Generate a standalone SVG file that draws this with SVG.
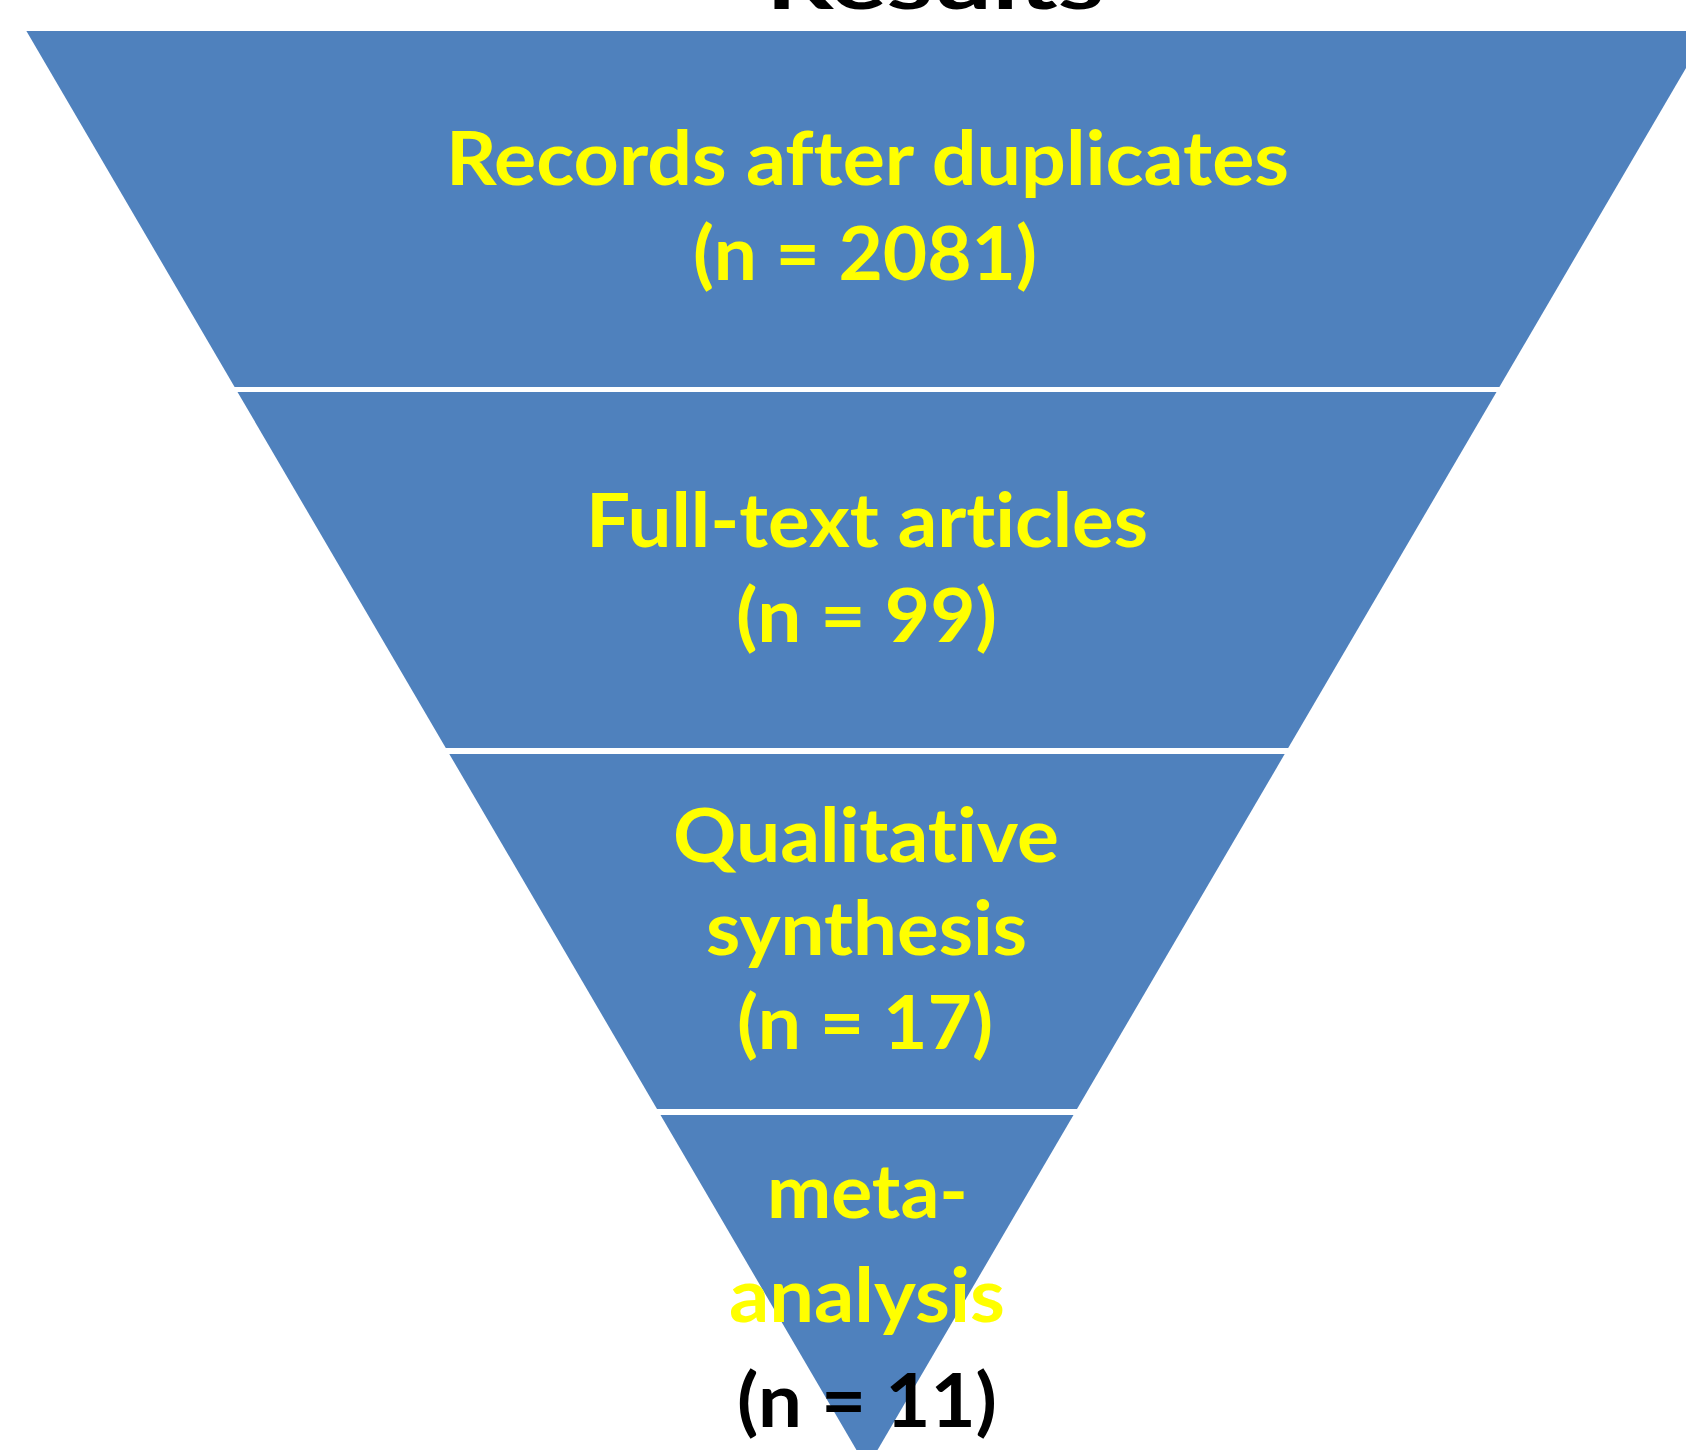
<svg xmlns="http://www.w3.org/2000/svg" width="1686" height="1450" viewBox="0 0 1686 1450">
  <style>
    .seg { fill: #4F81BD; }
    .lbl { font-family: Lato, "Open Sans", "Liberation Sans", sans-serif; font-weight: bold; font-size: 75px; fill: #FFFF00; font-variant-ligatures: none; font-feature-settings: "liga" 0, "clig" 0; }
    .blk { fill: #000000; }
  </style>
  <rect width="1686" height="1450" fill="#FFFFFF"/>
  <g id="title">
    <text class="lbl blk" x="766" y="9" font-size="108" textLength="338" lengthAdjust="spacingAndGlyphs">Results</text>
  </g>
  <g id="records">
    <polygon class="seg" points="26.4,31 1707.6,31 1499.4,387 234.6,387"/>
    <text class="lbl" x="446" y="185" textLength="843" lengthAdjust="spacingAndGlyphs">Records after duplicates</text>
    <text class="lbl" x="693" y="280" textLength="344" lengthAdjust="spacingAndGlyphs">(n = 2081)</text>
  </g>
  <g id="fulltext">
    <polygon class="seg" points="237.5,392 1496.5,392 1288.2,748 445.8,748"/>
    <text class="lbl" x="586" y="547" textLength="562" lengthAdjust="spacingAndGlyphs">Full-text articles</text>
    <text class="lbl" x="736" y="642" textLength="261" lengthAdjust="spacingAndGlyphs">(n = 99)</text>
  </g>
  <g id="qualitative">
    <polygon class="seg" points="449.3,754 1284.7,754 1077,1109 657,1109"/>
    <text class="lbl" x="673" y="862" textLength="386" lengthAdjust="spacingAndGlyphs">Qualitative</text>
    <text class="lbl" x="706" y="955" textLength="321" lengthAdjust="spacingAndGlyphs">synthesis</text>
    <text class="lbl" x="737" y="1049" textLength="256" lengthAdjust="spacingAndGlyphs">(n = 17)</text>
  </g>
  <g id="meta">
    <polygon class="seg" points="660.5,1115 1073.5,1115 867,1468"/>
    <text class="lbl" x="767" y="1218" textLength="201" lengthAdjust="spacingAndGlyphs">meta-</text>
    <text class="lbl" x="729" y="1322" textLength="276" lengthAdjust="spacingAndGlyphs">analysis</text>
    <text class="lbl blk" x="737" y="1427" textLength="260" lengthAdjust="spacingAndGlyphs">(n = 11)</text>
  </g>
</svg>
